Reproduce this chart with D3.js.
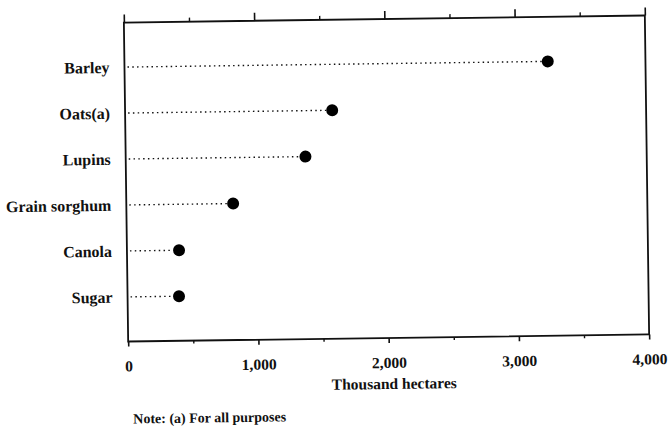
<!DOCTYPE html>
<html>
<head>
<meta charset="utf-8">
<script src="https://cdn.jsdelivr.net/npm/d3@7"></script>
<style>
  html, body { margin: 0; padding: 0; background: #fff; }
  svg { display: block; }
  text { font-family: "Liberation Serif", "Times New Roman", serif; font-weight: bold; fill: #111; }
</style>
</head>
<body>
<svg id="chart" width="668" height="428"></svg>
<script>
// ---- data ----
const categories = ["Barley", "Oats(a)", "Lupins", "Grain sorghum", "Canola", "Sugar"];
const values = [3250, 1590, 1380, 820, 400, 395];
const majorTicks = [0, 1000, 2000, 3000, 4000];
const minorTicks = [500, 1500, 2500, 3500];
const tickLabels = ["0", "1,000", "2,000", "3,000", "4,000"];
const xTitle = "Thousand hectares";
const noteText = "Note: (a) For all purposes";

// ---- layout ----
const W = 668, H = 428;
const m = { left: 126, right: 647, top: 19, bottom: 338 };
const svg = d3.select("#chart");
const cx = (m.left + m.right) / 2, cy = (m.top + m.bottom) / 2;
const g = svg.append("g").attr("transform", `rotate(-0.77 ${cx} ${cy})`);

const x = d3.scaleLinear().domain([0, 4000]).range([m.left, m.right]);
const y = d3.scalePoint().domain(categories).range([m.top, m.bottom]).padding(0.97);

// frame
g.append("rect")
  .attr("x", m.left).attr("y", m.top)
  .attr("width", m.right - m.left).attr("height", m.bottom - m.top)
  .attr("fill", "none").attr("stroke", "#111").attr("stroke-width", 1.8);

function styleAxis(sel, w) {
  sel.select(".domain").remove();
  sel.selectAll(".tick line").attr("stroke", "#111").attr("stroke-width", w);
}

// top ticks (outward)
g.append("g").attr("transform", `translate(0,${m.top})`)
  .call(d3.axisTop(x).tickValues(majorTicks).tickSize(8).tickFormat(""))
  .call(s => styleAxis(s, 1.6));
g.append("g").attr("transform", `translate(0,${m.top})`)
  .call(d3.axisTop(x).tickValues(minorTicks).tickSize(4).tickFormat(""))
  .call(s => styleAxis(s, 1.4));

// bottom axis
const bx = g.append("g").attr("transform", `translate(0,${m.bottom})`)
  .call(d3.axisBottom(x).tickValues(majorTicks).tickSize(5).tickPadding(14)
    .tickFormat((d, i) => tickLabels[i]))
  .call(s => styleAxis(s, 1.6));
bx.selectAll("text").attr("font-size", 15.5).attr("fill", "#111")
  .attr("font-family", "Liberation Serif").attr("font-weight", "bold");
g.append("g").attr("transform", `translate(0,${m.bottom})`)
  .call(d3.axisBottom(x).tickValues(minorTicks).tickSize(3).tickFormat(""))
  .call(s => styleAxis(s, 1.4));

// category labels
const ly = g.append("g").attr("transform", `translate(${m.left},0)`)
  .call(d3.axisLeft(y).tickSize(0).tickPadding(15));
ly.select(".domain").remove();
ly.selectAll("text").attr("font-size", 16).attr("fill", "#111")
  .attr("font-family", "Liberation Serif").attr("font-weight", "bold");

// dotted leaders
const rows = categories.map((c, i) => ({ c, v: values[i] }));
g.append("g").selectAll("line").data(rows).join("line")
  .attr("x1", x(0) + 3).attr("x2", d => x(d.v) - 6)
  .attr("y1", d => y(d.c)).attr("y2", d => y(d.c))
  .attr("stroke", "#111").attr("stroke-width", 1.4)
  .attr("stroke-dasharray", "1.5,3.3");

// dots
g.append("g").selectAll("circle").data(rows).join("circle")
  .attr("cx", d => x(d.v)).attr("cy", d => y(d.c)).attr("r", 6)
  .attr("fill", "#000");

// axis title
g.append("text").attr("x", x(2000) + 5).attr("y", 389)
  .attr("text-anchor", "middle").attr("font-size", 15.5).text(xTitle);

// note
g.append("text").attr("x", 130).attr("y", 420)
  .attr("font-size", 14).text(noteText);
</script>
</body>
</html>
